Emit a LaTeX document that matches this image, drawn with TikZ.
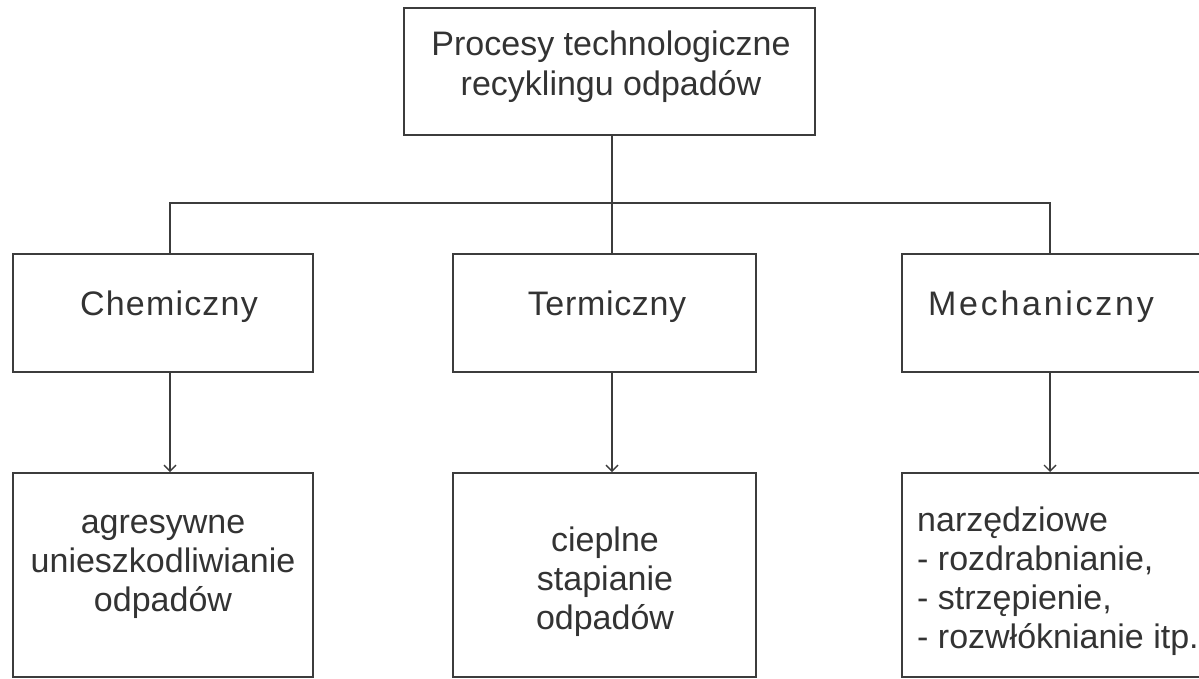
\documentclass[tikz,border=0pt]{standalone}
\usepackage{fontspec}
\setmainfont{Liberation Sans}
\usetikzlibrary{arrows.meta}
\definecolor{linegray}{HTML}{3C3C3C}
\definecolor{txtgray}{HTML}{333333}
\begin{document}
\begin{tikzpicture}[x=1pt,y=-1pt,
  box/.style={draw=linegray, line width=2pt, inner sep=0pt, minimum width=#1},
  lbl/.style={text=txtgray, font=\fontsize{34}{39}\selectfont, align=center, inner sep=0pt},
  conn/.style={draw=linegray, line width=1.8pt},
  arr/.style={conn, -{Straight Barb[length=6pt,width=12pt,line width=1.4pt]}}]
\useasboundingbox (0,0) rectangle (1199,678);
% boxes
\node[box=411pt, minimum height=127pt] (top) at (609.5,71.5) {};
\node[box=300pt, minimum height=118pt] (chem) at (163,313) {};
\node[box=303pt, minimum height=118pt] (term) at (604.5,313) {};
\node[box=318pt, minimum height=118pt] (mech) at (1061,313) {};
\node[box=300pt, minimum height=204pt] (chemb) at (163,575) {};
\node[box=303pt, minimum height=204pt] (termb) at (604.5,575) {};
\node[box=318pt, minimum height=204pt] (mechb) at (1061,575) {};
% texts
\node[lbl, font=\fontsize{34}{40}\selectfont] (ttop) at (611,67) {Procesy technologiczne\\recyklingu odpadów};
\node[lbl] (tchem) at (169,307) {\addfontfeature{LetterSpace=3.5}Chemiczny};
\node[lbl] (tterm) at (607,307) {\addfontfeature{LetterSpace=2}Termiczny};
\node[lbl] (tmech) at (1041,307) {\addfontfeature{LetterSpace=8}Mechaniczny};
\node[lbl] (tchemb) at (163,567) {agresywne\\unieszkodliwianie\\odpadów};
\node[lbl] (ttermb) at (605,582) {cieplne\\stapianie\\odpadów};
\node[lbl, align=left, anchor=west] (tmechb) at (917,581) {narzędziowe\\- rozdrabnianie,\\- strzępienie,\\- rozwłóknianie itp.};
% connectors
\coordinate (j) at (612,203);
\coordinate (jl) at (170,203);
\coordinate (jr) at (1050,203);
\draw[conn] (j |- top.south) -- (j);
\draw[conn, line cap=rect] (jl) -- (jr);
\draw[conn] (jl) -- (jl |- chem.north);
\draw[conn] (j) -- (j |- term.north);
\draw[conn] (jr) -- (jr |- mech.north);
\draw[arr] (jl |- chem.south) -- (jl |- chemb.north);
\draw[arr] (j |- term.south) -- (j |- termb.north);
\draw[arr] (jr |- mech.south) -- (jr |- mechb.north);
\end{tikzpicture}
\end{document}
